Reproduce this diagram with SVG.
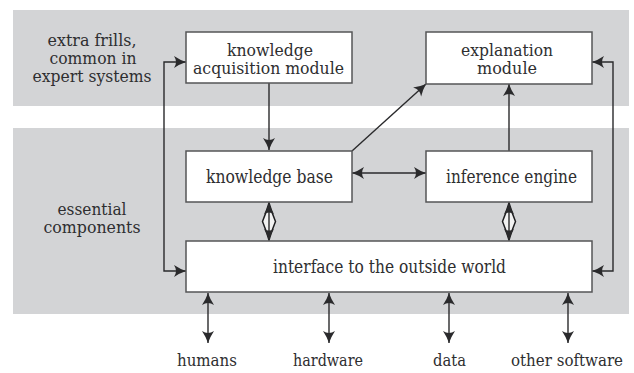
<svg xmlns="http://www.w3.org/2000/svg" width="634" height="373" viewBox="0 0 634 373">
  <style>
    .band { fill: #d3d4d6; }
    .box { fill: #ffffff; stroke: #555557; stroke-width: 1.5; }
    .t { font-family: "DejaVu Serif", serif; font-size: 18px; fill: #2e2e30; text-anchor: middle; }
    .s { font-size: 16.5px; }
    .b { font-size: 16px; }
    .c { fill: none; stroke: #2a2a2c; stroke-width: 1.4; }
    .ah { fill: #2a2a2c; }
    .dia { fill: #f2f2f2; stroke: #1e1e20; stroke-width: 1.5; }
  </style>
  <defs>
    <marker id="arr" viewBox="-14 -7 15 14" refX="0" refY="0" markerWidth="15" markerHeight="14" markerUnits="userSpaceOnUse" orient="auto-start-reverse">
      <path class="ah" d="M0,0 Q-6,-2 -12,-6 Q-8,0 -12,6 Q-6,2 0,0 Z"/>
    </marker>
  </defs>

  <rect width="634" height="373" fill="#ffffff"/>
  <rect class="band" x="13" y="10" width="616" height="96"/>
  <rect class="band" x="13" y="128" width="616" height="186"/>

  <g id="label-extra">
    <text class="t s" x="92" y="46" textLength="89" lengthAdjust="spacingAndGlyphs">extra frills,</text>
    <text class="t s" x="93" y="64" textLength="87" lengthAdjust="spacingAndGlyphs">common in</text>
    <text class="t s" x="92" y="82" textLength="119" lengthAdjust="spacingAndGlyphs">expert systems</text>
  </g>
  <g id="label-essential">
    <text class="t s" x="92" y="215" textLength="69" lengthAdjust="spacingAndGlyphs">essential</text>
    <text class="t s" x="92" y="233" textLength="97" lengthAdjust="spacingAndGlyphs">components</text>
  </g>

  <g id="connectors">
    <path class="c" d="M269,83 V150" marker-end="url(#arr)"/>
    <path class="c" d="M186,62 H164 V271 H186" marker-start="url(#arr)" marker-end="url(#arr)"/>
    <path class="c" d="M592,62 H613 V271 H592" marker-start="url(#arr)" marker-end="url(#arr)"/>
    <path class="c" d="M352,173 H426" marker-start="url(#arr)" marker-end="url(#arr)"/>
    <path class="c" d="M352,151 L426,84" marker-end="url(#arr)"/>
    <path class="c" d="M509,151 V84" marker-end="url(#arr)"/>
    <g id="kb-if">
      <path class="dia" d="M269,203 Q266,213 262.5,221.5 Q266,230 269,240 Q272,230 275.5,221.5 Q272,213 269,203 Z"/>
      <path class="c" d="M269,203 V240"/>
      <path class="ah" d="M269,203 Q267,209 264,214 Q269,211 274,214 Q271,209 269,203 Z"/>
      <path class="ah" d="M269,240 Q267,234 264,229 Q269,232 274,229 Q271,234 269,240 Z"/>
    </g>
    <g id="ie-if">
      <path class="dia" d="M509,203 Q506,213 502.5,221.5 Q506,230 509,240 Q512,230 515.5,221.5 Q512,213 509,203 Z"/>
      <path class="c" d="M509,203 V240"/>
      <path class="ah" d="M509,203 Q507,209 504,214 Q509,211 514,214 Q511,209 509,203 Z"/>
      <path class="ah" d="M509,240 Q507,234 504,229 Q509,232 514,229 Q511,234 509,240 Z"/>
    </g>
    <path class="c" d="M208,293 V343" marker-start="url(#arr)" marker-end="url(#arr)"/>
    <path class="c" d="M329,293 V343" marker-start="url(#arr)" marker-end="url(#arr)"/>
    <path class="c" d="M449,293 V343" marker-start="url(#arr)" marker-end="url(#arr)"/>
    <path class="c" d="M568,293 V343" marker-start="url(#arr)" marker-end="url(#arr)"/>
  </g>

  <g id="knowledge-acquisition">
    <rect class="box" x="186" y="32" width="166" height="51"/>
    <text class="t s" x="270" y="56" textLength="86" lengthAdjust="spacingAndGlyphs">knowledge</text>
    <text class="t s" x="268.5" y="74" textLength="151" lengthAdjust="spacingAndGlyphs">acquisition module</text>
  </g>
  <g id="explanation">
    <rect class="box" x="426" y="32" width="166" height="52"/>
    <text class="t s" x="507" y="56" textLength="92" lengthAdjust="spacingAndGlyphs">explanation</text>
    <text class="t s" x="507" y="74" textLength="60" lengthAdjust="spacingAndGlyphs">module</text>
  </g>
  <g id="knowledge-base">
    <rect class="box" x="186" y="151" width="166" height="51"/>
    <text class="t" x="269.5" y="183" textLength="127" lengthAdjust="spacingAndGlyphs">knowledge base</text>
  </g>
  <g id="inference-engine">
    <rect class="box" x="426" y="151" width="166" height="51"/>
    <text class="t" x="511.5" y="183" textLength="131" lengthAdjust="spacingAndGlyphs">inference engine</text>
  </g>
  <g id="interface">
    <rect class="box" x="186" y="241" width="406" height="51"/>
    <text class="t" x="389.5" y="273" textLength="233" lengthAdjust="spacingAndGlyphs">interface to the outside world</text>
  </g>

  <g id="humans"><text class="t s" x="207" y="366" textLength="60" lengthAdjust="spacingAndGlyphs">humans</text></g>
  <g id="hardware"><text class="t s" x="328" y="366" textLength="70" lengthAdjust="spacingAndGlyphs">hardware</text></g>
  <g id="data"><text class="t s" x="449.5" y="366" textLength="33" lengthAdjust="spacingAndGlyphs">data</text></g>
  <g id="other-software"><text class="t b" x="567" y="366" textLength="112" lengthAdjust="spacingAndGlyphs">other software</text></g>
</svg>
